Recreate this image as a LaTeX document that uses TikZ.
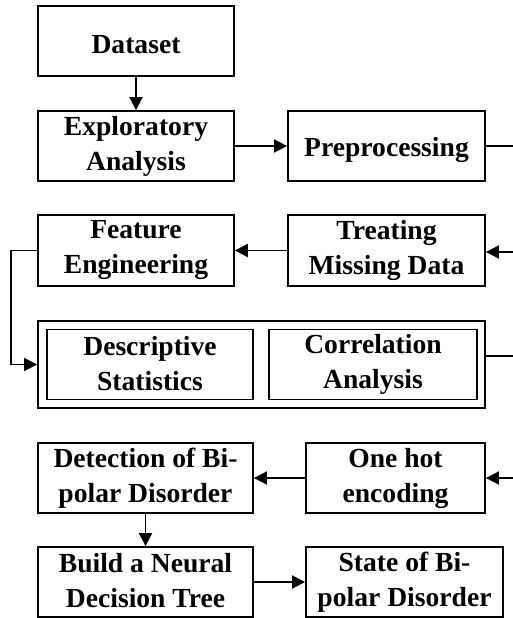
\documentclass[tikz,border=0pt]{standalone}
\usepackage{fontspec}
\setmainfont{Liberation Serif}
\usetikzlibrary{arrows.meta}
\newcommand{\boxstrut}{\rule[-3pt]{0pt}{30pt}}
\begin{document}
\begin{tikzpicture}[x=1pt, y=-1pt,
        blk/.style={rectangle, draw, line width=1.8pt, align=center, inner sep=0pt,
                    minimum height=70pt, font=\fontsize{27.6}{35}\selectfont\bfseries,
                    execute at begin node=\boxstrut, execute at end node=\boxstrut},
        arr/.style={-{Triangle[length=13pt,width=13pt]}, line width=1.8pt},
        lin/.style={line width=1.8pt}
]
    \useasboundingbox (0,0) rectangle (513,618);
    \node[blk, minimum width=196pt] (data) at (136,41) {Dataset};
    \node[blk, minimum width=196pt] (explore) at (136,146) {Exploratory\\Analysis};
    \node[blk, minimum width=197pt] (prep) at (386.5,146) {Preprocessing};
    \node[blk, minimum width=196pt, minimum height=71pt] (feat) at (136,250.5) {Feature\\Engineering};
    \node[blk, minimum width=197pt, minimum height=71pt] (treat) at (386.5,250.5) {Treating\\Missing Data};
    \node[blk, minimum width=447pt, minimum height=87pt] (stats) at (261.5,364.5) {};
    \node[blk, minimum width=206pt] (desc) at (150,364.5) {Descriptive\\Statistics};
    \node[blk, minimum width=208pt] (corr) at (373,364.5) {Correlation\\Analysis};
    \node[blk, minimum width=179pt] (onehot) at (395.5,478) {One hot\\encoding};
    \node[blk, minimum width=215pt] (detect) at (145.5,478) {Detection of Bi-\\polar Disorder};
    \node[blk, minimum width=215pt] (build) at (145.5,582) {Build a Neural\\Decision Tree};
    \node[blk, minimum width=197pt] (state) at (404.5,582) {State of Bi-\\polar Disorder};

    % free ends at the right margin
    \coordinate (out1) at (513,146);
    \coordinate (in1) at (513,252);
    \coordinate (out2) at (513,356);
    \coordinate (in2) at (513,478);

    \draw[arr] (data) -- (explore);
    \draw[arr] (explore) -- (prep);
    \draw[lin] (prep.east) -- (out1);
    \draw[arr] (in1) -- (treat.east |- in1);
    \draw[arr] (treat) -- (feat);
    \draw[arr] (feat.west) -- ++(-26,0) |- (stats.west);
    \draw[lin] (stats.east |- out2) -- (out2);
    \draw[arr] (in2) -- (onehot.east);
    \draw[arr] (onehot) -- (detect);
    \draw[arr] (detect) -- (build);
    \draw[arr] (build) -- (state);
\end{tikzpicture}
\end{document}
